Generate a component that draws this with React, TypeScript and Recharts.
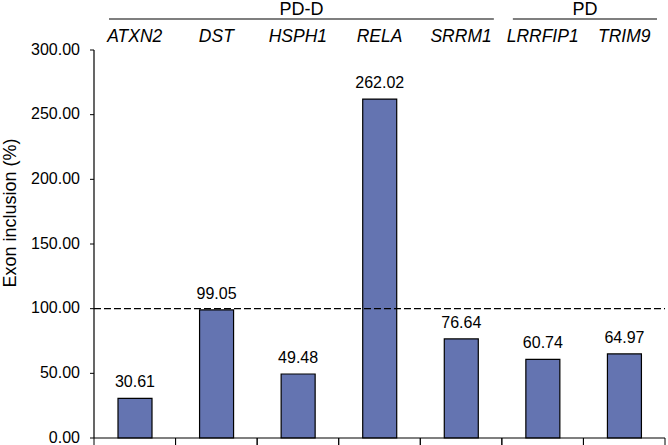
import React from "react";
import { BarChart, Bar, XAxis, YAxis, ReferenceLine, LabelList } from "recharts";

const genes = ["ATXN2", "DST", "HSPH1", "RELA", "SRRM1", "LRRFIP1", "TRIM9"];
const inclusion = [30.61, 99.05, 49.48, 262.02, 76.64, 60.74, 64.97];
const groups = [
  { name: "PD-D", first: 0, last: 4 },
  { name: "PD", first: 5, last: 6 },
];
const yTicks = [0, 50, 100, 150, 200, 250, 300];

const W = 668;
const H = 445;
const LEFT = 94;
const RIGHT = 3;
const band = (W - LEFT - RIGHT) / genes.length;

const data = genes.map((g, i) => ({ gene: g, value: inclusion[i] }));

const font = "Arial, 'Liberation Sans', sans-serif";

// band boundaries as little ticks under the x axis
function BottomTick(props: any) {
  const { x, y } = props;
  return (
    <g>
      <line x1={x - band / 2} x2={x - band / 2} y1={y} y2={y + 8} stroke="#000" strokeWidth={1} />
      <line x1={x + band / 2} x2={x + band / 2} y1={y} y2={y + 8} stroke="#000" strokeWidth={1} />
    </g>
  );
}

// gene names plus group headers
function TopTick(props: any) {
  const { x, y, payload } = props;
  const idx = payload.index;
  const grp = groups.find((g) => g.first === idx);
  let header = null;
  if (grp) {
    const x1 = x - band / 2 + (idx === 0 ? 15 : 11);
    const x2 = x + (grp.last - grp.first) * band + band / 2 - 8;
    header = (
      <g>
        <line x1={x1} x2={x2} y1={y - 31} y2={y - 31} stroke="#000" strokeWidth={1.2} />
        <text x={(x1 + x2) / 2} y={y - 35} textAnchor="middle" fontSize={18} fontFamily={font} fill="#000">
          {grp.name}
        </text>
      </g>
    );
  }
  return (
    <g>
      {header}
      <text x={x} y={y - 8} textAnchor="middle" fontSize={17.5} fontStyle="italic" fontFamily={font} fill="#000">
        {payload.value}
      </text>
    </g>
  );
}

function LeftTick(props: any) {
  const { x, y, payload } = props;
  return (
    <text x={x} y={y} dy={4.5} textAnchor="end" fontSize={16} fontFamily={font} fill="#000">
      {Number(payload.value).toFixed(2)}
    </text>
  );
}

export default function App() {
  return (
    <div style={{ position: "absolute", left: 0, top: 0, background: "#fff" }}>
      <BarChart width={W} height={H} data={data} margin={{ top: 0, right: RIGHT, bottom: 0, left: 0 }} barSize={34}>
        <XAxis
          dataKey="gene"
          xAxisId="bottom"
          height={7}
          tickSize={0}
          tickMargin={0}
          tickLine={false}
          axisLine={{ stroke: "#000", strokeWidth: 1.2 }}
          tick={<BottomTick />}
          interval={0}
        />
        <XAxis
          dataKey="gene"
          xAxisId="top"
          orientation="top"
          height={50}
          tickSize={0}
          tickMargin={0}
          tickLine={false}
          axisLine={false}
          tick={<TopTick />}
          interval={0}
        />
        <YAxis
          width={LEFT}
          domain={[0, 300]}
          ticks={yTicks}
          interval={0}
          tickSize={4}
          tickMargin={10}
          tick={<LeftTick />}
          axisLine={{ stroke: "#000", strokeWidth: 1.2 }}
          tickLine={{ stroke: "#000" }}
          label={{
            content: () => (
              <text
                x={0}
                y={0}
                transform="translate(16, 213) rotate(-90)"
                textAnchor="middle"
                fontSize={18}
                fontFamily={font}
                fill="#000"
              >
                Exon inclusion (%)
              </text>
            ),
          }}
        />
        <ReferenceLine xAxisId="bottom" y={100} stroke="#000" strokeWidth={1.2} strokeDasharray="7 3" />
        <Bar xAxisId="bottom" dataKey="value" fill="#6474B1" stroke="#000" strokeWidth={1.2} isAnimationActive={false}>
          <LabelList
            dataKey="value"
            position="top"
            offset={11}
            formatter={(v: any) => Number(v).toFixed(2)}
            style={{ fill: "#000", fontSize: 16, fontFamily: font }}
          />
        </Bar>
      </BarChart>
    </div>
  );
}
